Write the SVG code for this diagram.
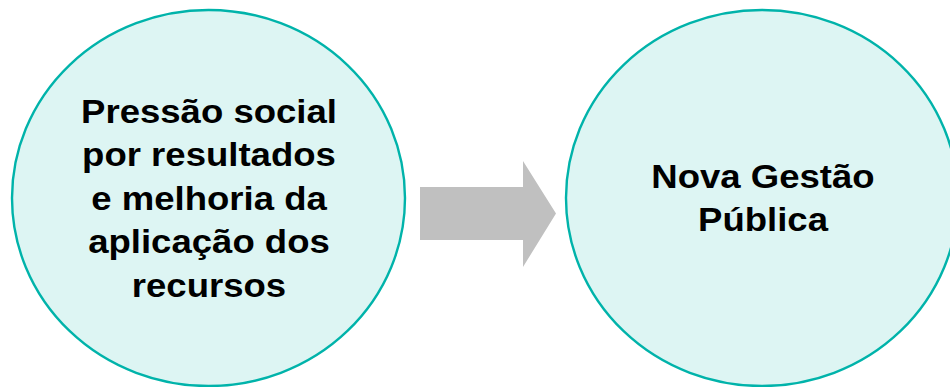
<svg xmlns="http://www.w3.org/2000/svg" width="950" height="387" viewBox="0 0 950 387">
<style>
.node{fill:#DDF5F3;stroke:#00B3AA;stroke-width:2.4}
.lbl{font-family:"Liberation Sans",Arial,sans-serif;font-weight:bold;font-size:34px;fill:#000;text-anchor:middle}
.arrow{fill:#C0C0C0}
</style>
<rect width="950" height="387" fill="#fff"/>
<g id="node-pressao">
<ellipse class="node" cx="208.5" cy="198" rx="196.5" ry="188"/>
<g transform="translate(209,0) scale(1.075,1)">
<text class="lbl" x="0" y="123">Pressão social</text>
<text class="lbl" x="0" y="166.5">por resultados</text>
<text class="lbl" x="0" y="210">e melhoria da</text>
<text class="lbl" x="0" y="253.5">aplicação dos</text>
<text class="lbl" x="0" y="297">recursos</text>
</g>
</g>
<g id="connectors">
<polygon class="arrow" points="420,187 523,187 523,161 556,213.5 523,267 523,240 420,240"/>
</g>
<g id="node-ngp">
<ellipse class="node" cx="762" cy="198" rx="196" ry="188"/>
<g transform="translate(763,0) scale(1.075,1)">
<text class="lbl" x="0" y="188">Nova Gestão</text>
<text class="lbl" x="0" y="231.5">Pública</text>
</g>
</g>
</svg>
